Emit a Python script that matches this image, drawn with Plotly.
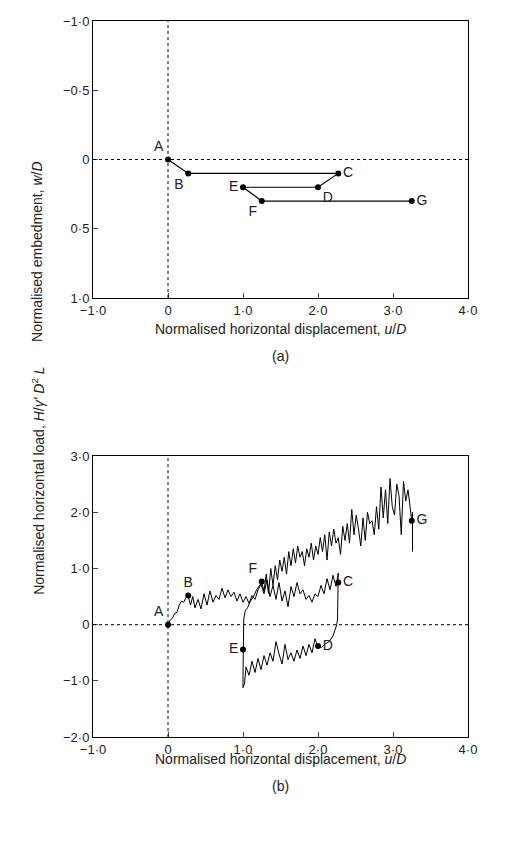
import plotly.graph_objects as go
from plotly.subplots import make_subplots

# panel (a): embedment path
path_u = [0, 0.27, 2.27, 2.0, 1.0, 1.25, 3.25]
path_w = [0, 0.1, 0.1, 0.2, 0.2, 0.3, 0.3]
path_lbl = ["A", "B", "C", "D", "E", "F", "G"]
lbl_pos_a = ["top left", "bottom left", "middle right", "bottom right", "middle left", "bottom left", "middle right"]

# panel (b): load trace
ab_u = [0, 0.03, 0.06, 0.09, 0.12, 0.15, 0.18, 0.21, 0.24, 0.27]
ab_h = [0, 0.08, 0.12, 0.2, 0.22, 0.35, 0.42, 0.4, 0.48, 0.5]
bc_u = [0.3, 0.33, 0.36, 0.4, 0.44, 0.48, 0.52, 0.56, 0.6, 0.64, 0.68, 0.72, 0.76, 0.8, 0.84, 0.88,
        0.92, 0.96, 1.0, 1.04, 1.08, 1.12, 1.16, 1.2, 1.24, 1.28, 1.32, 1.36, 1.4, 1.44, 1.48, 1.52,
        1.56, 1.6, 1.64, 1.68, 1.72, 1.76, 1.8, 1.84, 1.88, 1.92, 1.96, 2.0, 2.04, 2.08, 2.12, 2.16,
        2.2, 2.24, 2.27]
bc_h = [0.35, 0.5, 0.3, 0.45, 0.28, 0.55, 0.35, 0.6, 0.4, 0.52, 0.45, 0.65, 0.48, 0.62, 0.5, 0.58,
        0.42, 0.55, 0.4, 0.5, 0.38, 0.52, 0.45, 0.62, 0.72, 0.55, 0.8, 0.5, 0.7, 0.45, 0.75, 0.42,
        0.6, 0.32, 0.68, 0.5, 0.75, 0.55, 0.62, 0.45, 0.52, 0.4, 0.55, 0.5, 0.7, 0.55, 0.82, 0.62,
        0.88, 0.68, 0.92]
cd_u = [2.27, 2.27, 2.26, 2.25, 2.23, 2.2, 2.15, 2.1, 2.05, 2.0]
cd_h = [0.75, 0.4, 0.1, 0.0, -0.1, -0.2, -0.3, -0.34, -0.4, -0.4]
de_u = [1.96, 1.92, 1.88, 1.84, 1.8, 1.76, 1.72, 1.68, 1.64, 1.6, 1.56, 1.52, 1.48, 1.44, 1.4,
        1.36, 1.32, 1.28, 1.24, 1.2, 1.16, 1.12, 1.08, 1.04, 1.02, 1.0]
de_h = [-0.25, -0.5, -0.35, -0.55, -0.38, -0.6, -0.45, -0.65, -0.5, -0.62, -0.35, -0.7, -0.52, -0.3,
        -0.65, -0.5, -0.72, -0.55, -0.8, -0.6, -0.85, -0.65, -0.9, -0.75, -1.05, -1.12]
ef_u = [1.0, 1.0, 1.01, 1.03, 1.06, 1.1, 1.14, 1.18, 1.22, 1.25]
ef_h = [-0.9, -0.45, 0.1, 0.25, 0.3, 0.42, 0.5, 0.62, 0.7, 0.75]
fg_u = [1.28, 1.31, 1.34, 1.37, 1.4, 1.43, 1.46, 1.49, 1.52, 1.55, 1.58, 1.61, 1.64, 1.67, 1.7,
        1.73, 1.76, 1.79, 1.82, 1.85, 1.88, 1.91, 1.94, 1.97, 2.0, 2.03, 2.06, 2.09, 2.12, 2.15,
        2.18, 2.21, 2.24, 2.27, 2.3, 2.33, 2.36, 2.39, 2.42, 2.45, 2.48, 2.51, 2.54, 2.57, 2.6,
        2.63, 2.66, 2.69, 2.72, 2.75, 2.78, 2.81, 2.84, 2.87, 2.9, 2.93, 2.96, 2.99, 3.02, 3.05,
        3.08, 3.11, 3.14, 3.17, 3.2, 3.23, 3.25, 3.26, 3.26]
fg_h = [0.6, 0.9, 0.55, 1.0, 0.7, 1.05, 0.8, 1.15, 0.95, 1.2, 0.9, 1.3, 1.05, 1.35, 1.1, 1.4,
        1.2, 1.3, 1.05, 1.35, 1.2, 1.45, 1.15, 1.4, 1.25, 1.55, 1.3, 1.6, 1.15, 1.65, 1.4,
        1.7, 1.45, 1.55, 1.25, 1.75, 1.5, 1.8, 1.45, 2.05, 1.6, 1.95, 1.7, 1.4, 1.9, 1.5,
        2.0, 1.8, 1.85, 1.6, 2.1, 1.7, 2.45, 1.9, 2.4, 1.8, 2.6, 2.1, 1.95, 2.5, 2.3, 1.6,
        2.55, 2.2, 2.4, 2.1, 1.85, 2.0, 1.3]

pts_b_u = [0, 0.27, 2.27, 2.0, 1.0, 1.25, 3.25]
pts_b_h = [0, 0.52, 0.75, -0.38, -0.44, 0.77, 1.85]
lbl_pos_b = ["top left", "top center", "middle right", "middle right", "middle left", "top left", "middle right"]

load_u = ab_u + bc_u + cd_u + de_u + ef_u + fg_u
load_h = ab_h + bc_h + cd_h + de_h + ef_h + fg_h

fig = make_subplots(rows=2, cols=1)

fig.add_trace(go.Scatter(x=path_u, y=path_w, mode="lines+markers+text", text=path_lbl,
                         textposition=lbl_pos_a, line=dict(color="black", width=1.2),
                         marker=dict(size=6, color="black"), textfont=dict(size=14)), row=1, col=1)
fig.add_trace(go.Scatter(x=load_u, y=load_h, mode="lines", line=dict(color="black", width=1)), row=2, col=1)
fig.add_trace(go.Scatter(x=pts_b_u, y=pts_b_h, mode="markers+text", text=path_lbl,
                         textposition=lbl_pos_b, marker=dict(size=6, color="black"),
                         textfont=dict(size=14)), row=2, col=1)

for r in (1, 2):
    fig.add_vline(x=0, line=dict(color="black", width=1, dash="dot"), row=r, col=1)
    fig.add_hline(y=0, line=dict(color="black", width=1, dash="dot"), row=r, col=1)

ax = dict(showgrid=False, zeroline=False, showline=True, mirror=True, linecolor="black",
          ticks="inside", ticklen=5, tickfont=dict(size=13, color="#222"))
xt = dict(tickvals=[-1, 0, 1, 2, 3, 4], ticktext=["−1·0", "0", "1·0", "2·0", "3·0", "4·0"])
fig.update_xaxes(range=[-1, 4], **ax, **xt)
fig.update_yaxes(ax)
fig.update_yaxes(range=[1, -1], tickvals=[-1, -0.5, 0, 0.5, 1],
                 ticktext=["−1·0", "−0·5", "0", "0·5", "1·0"], domain=[0.665, 0.9988], row=1, col=1)
fig.update_yaxes(range=[-2, 3], tickvals=[-2, -1, 0, 1, 2, 3],
                 ticktext=["−2·0", "−1·0", "0", "1·0", "2·0", "3·0"], domain=[0.136, 0.4746], row=2, col=1)

xtitle = "Normalised horizontal displacement, <i>u</i>/<i>D</i>"
notes = [
    (xtitle, 0.5, 1 - (320 - 5) / 845, 0),
    ("(a)", 0.5, 1 - (347 - 5) / 845, 0),
    (xtitle, 0.5, 1 - (768 - 5) / 845, 0),
    ("(b)", 0.5, 1 - (795 - 5) / 845, 0),
    ("Normalised embedment, <i>w</i>/<i>D</i>", -66 / 375, 0.832, -90),
    ("Normalised horizontal load, <i>H</i>/<i>γ'</i> <i>D</i><sup>2</sup> <i>L</i>", -66 / 375, 0.305, -90),
]
for txt, nx_, ny_, ang in notes:
    fig.add_annotation(text=txt, xref="paper", yref="paper", x=nx_, y=ny_, showarrow=False,
                       textangle=ang, font=dict(size=14))

fig.update_layout(width=520, height=855, showlegend=False, plot_bgcolor="white", paper_bgcolor="white",
                  font=dict(family="Liberation Sans, Arial", color="#222"),
                  margin=dict(l=85, r=60, t=5, b=5))

fig.write_html("out.html")
